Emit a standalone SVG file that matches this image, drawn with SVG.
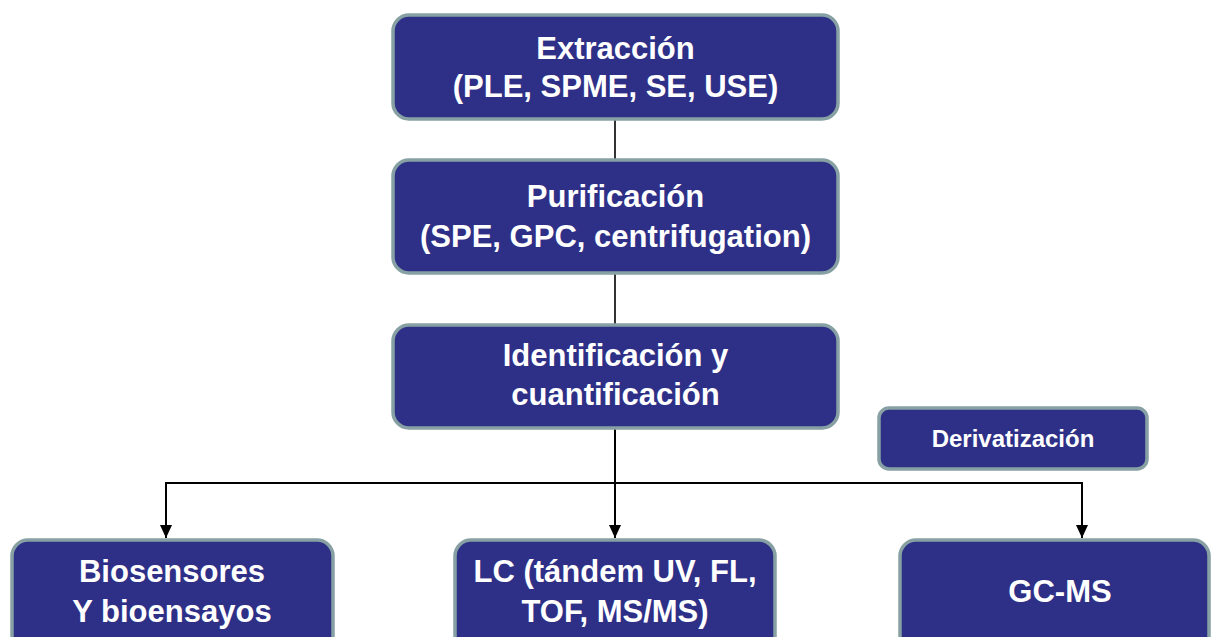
<svg xmlns="http://www.w3.org/2000/svg" width="1211" height="637" viewBox="0 0 1211 637">
<defs>
<style>
.box{fill:#2e3087;stroke:#87a0a3;stroke-width:3.5}
.t{font-family:"Liberation Sans",Arial,sans-serif;font-weight:bold;fill:#ffffff;text-anchor:middle;font-size:31px}
.s{font-size:24px}
.ln{stroke:#333333;stroke-width:2;fill:none}
.ar{stroke:#000000;stroke-width:2;fill:none}
</style>
<marker id="ah" markerWidth="13" markerHeight="12" refX="13" refY="6" orient="auto" markerUnits="userSpaceOnUse" viewBox="0 0 13 12">
<path d="M0,0 L13,6 L0,12 Z" fill="#000"/>
</marker>
</defs>
<rect width="1211" height="637" fill="#ffffff"/>
<g id="connectors">
<line class="ln" x1="615" y1="119" x2="615" y2="160"/>
<line class="ln" x1="615" y1="273" x2="615" y2="325"/>
<line class="ar" x1="615" y1="428" x2="615" y2="483"/>
<polyline class="ar" points="166,526 166,483 1082,483 1082,526"/>
<line class="ar" x1="166" y1="500" x2="166" y2="538" marker-end="url(#ah)"/>
<line class="ar" x1="615" y1="483" x2="615" y2="538" marker-end="url(#ah)"/>
<line class="ar" x1="1082" y1="500" x2="1082" y2="538" marker-end="url(#ah)"/>
</g>
<g id="extraccion">
<rect class="box" x="393" y="15" width="445" height="104" rx="16"/>
<text class="t" x="615.5" y="59">Extracción</text>
<text class="t" x="615.5" y="97">(PLE, SPME, SE, USE)</text>
</g>
<g id="purificacion">
<rect class="box" x="393" y="160" width="445" height="113" rx="16"/>
<text class="t" x="615.5" y="207">Purificación</text>
<text class="t" x="615.5" y="247">(SPE, GPC, centrifugation)</text>
</g>
<g id="identificacion">
<rect class="box" x="393" y="325" width="445" height="103" rx="16"/>
<text class="t" x="615.5" y="366">Identificación y</text>
<text class="t" x="615.5" y="405">cuantificación</text>
</g>
<g id="derivatizacion">
<rect class="box" x="879" y="408" width="268" height="61" rx="10"/>
<text class="t s" x="1013" y="447">Derivatización</text>
</g>
<g id="biosensores">
<rect class="box" x="12" y="540" width="321" height="115" rx="16"/>
<text class="t" x="172" y="582">Biosensores</text>
<text class="t" x="172" y="622">Y bioensayos</text>
</g>
<g id="lc">
<rect class="box" x="455" y="540" width="320" height="115" rx="16"/>
<text class="t" x="615" y="582">LC (tándem UV, FL,</text>
<text class="t" x="615" y="622">TOF, MS/MS)</text>
</g>
<g id="gcms">
<rect class="box" x="900" y="540" width="309" height="115" rx="16"/>
<text class="t" x="1060" y="602">GC-MS</text>
</g>
</svg>
